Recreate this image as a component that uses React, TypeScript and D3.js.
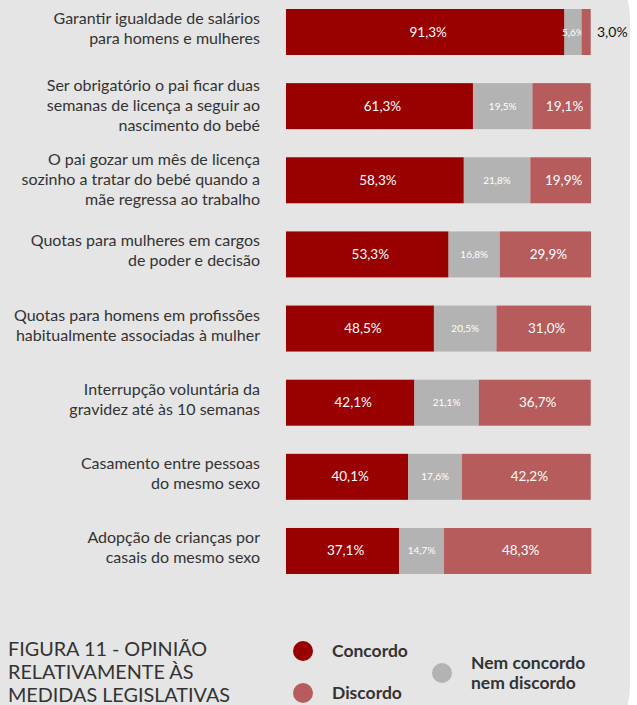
import React from "react";
import * as d3 from "d3";

const categories: string[][] = [
  ["Garantir igualdade de salários", "para homens e mulheres"],
  ["Ser obrigatório o pai ficar duas", "semanas de licença a seguir ao", "nascimento do bebé"],
  ["O pai gozar um mês de licença", "sozinho a tratar do bebé quando a", "mãe regressa ao trabalho"],
  ["Quotas para mulheres em cargos", "de poder e decisão"],
  ["Quotas para homens em profissões", "habitualmente associadas à mulher"],
  ["Interrupção voluntária da", "gravidez até às 10 semanas"],
  ["Casamento entre pessoas", "do mesmo sexo"],
  ["Adopção de crianças por", "casais do mesmo sexo"],
];
const concordo = [91.3, 61.3, 58.3, 53.3, 48.5, 42.1, 40.1, 37.1];
const nem = [5.6, 19.5, 21.8, 16.8, 20.5, 21.1, 17.6, 14.7];
const discordo = [3.0, 19.1, 19.9, 29.9, 31.0, 36.7, 42.2, 48.3];

const titleLines = ["FIGURA 11 - OPINIÃO", "RELATIVAMENTE ÀS", "MEDIDAS LEGISLATIVAS"];
const legendItems = ["Concordo", "Discordo", "Nem concordo nem discordo"];

const C_RED = "#990000";
const C_GRAY = "#b3b3b3";
const C_PINK = "#b75c5c";
const FONT = "Lato, 'Open Sans', sans-serif";

const fmt = (v: number) => v.toFixed(1).replace(".", ",") + "%";

export default function App() {
  const W = 637, H = 705;
  const x = d3.scaleLinear().domain([0, 100]).range([286, 591]);
  const step = 74.14;
  const bh = 46;
  const series = [
    { vals: concordo, color: C_RED, big: true },
    { vals: nem, color: C_GRAY, big: false },
    { vals: discordo, color: C_PINK, big: true },
  ];
  return (
    <svg width={W} height={H} style={{ position: "absolute", left: 0, top: 0 }}>
      <rect x={0} y={0} width={W} height={H} fill="#ffffff" />
      <rect x={-60} y={-40} width={690} height={H + 80} rx={40} ry={60} fill="#e5e5e5" />
      {categories.map((lines, i) => {
        const y0 = 9 + i * step;
        const cy = y0 + bh / 2;
        const lh = 20;
        const start = cy - ((lines.length - 1) * lh) / 2 - (lines.length === 2 ? 3 : 0);
        let acc = 0;
        return (
          <g key={i}>
            <text x={260} textAnchor="end" fontFamily={FONT} fontSize={16} fill="#333333">
              {lines.map((l, j) => (
                <tspan key={j} x={260} y={start + j * lh + 5}>{l}</tspan>
              ))}
            </text>
            {series.map((s, k) => {
              const v = s.vals[i];
              const x0 = x(acc);
              acc += v;
              const x1 = x(acc);
              const isOut = k === 2 && v < 5;
              return (
                <g key={k}>
                  <rect x={x0} y={y0} width={Math.max(0, x1 - x0)} height={bh} fill={s.color} />
                  {isOut ? (
                    <text x={597} y={cy + 5} fontFamily={FONT} fontSize={14} fill="#111">{fmt(v)}</text>
                  ) : (
                    <text x={(x0 + x1) / 2 + (s.big ? 3 : 0)} y={cy + (s.big ? 4.5 : 3.5)} textAnchor="middle" fontFamily={FONT}
                      fontSize={s.big ? 13.5 : 10} fill="#ffffff">{fmt(v)}</text>
                  )}
                </g>
              );
            })}
          </g>
        );
      })}
      <text fontFamily={FONT} fontSize={19.8} fill="#333333">
        {titleLines.map((l, j) => (
          <tspan key={j} x={8} y={656 + j * 23}>{l}</tspan>
        ))}
      </text>
      <circle cx={303} cy={651} r={10} fill={C_RED} />
      <text x={332} y={657} fontFamily={FONT} fontSize={17.5} fontWeight="bold" fill="#333333">{legendItems[0]}</text>
      <circle cx={303} cy={693} r={10} fill={C_PINK} />
      <text x={332} y={699} fontFamily={FONT} fontSize={17.5} fontWeight="bold" fill="#333333">{legendItems[1]}</text>
      <circle cx={442} cy={673} r={10} fill={C_GRAY} />
      <text fontFamily={FONT} fontSize={17.5} fontWeight="bold" fill="#333333">
        <tspan x={471} y={669}>Nem concordo</tspan>
        <tspan x={471} y={689}>nem discordo</tspan>
      </text>
    </svg>
  );
}
